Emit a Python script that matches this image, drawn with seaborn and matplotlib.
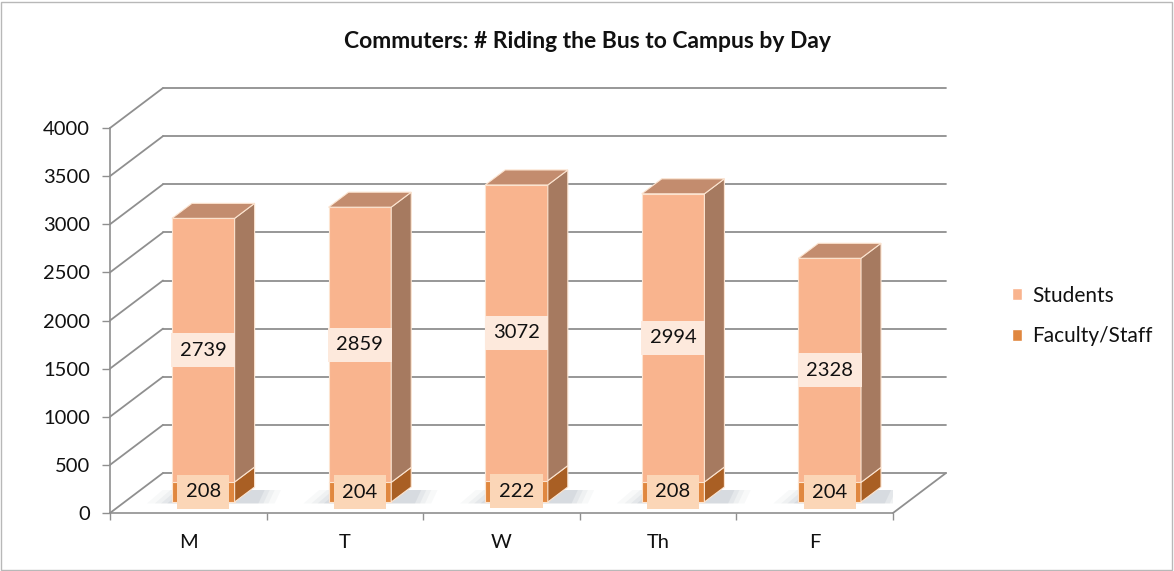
import matplotlib
matplotlib.use("Agg")
import pandas as pd
import seaborn as sns
import matplotlib.pyplot as plt
from matplotlib.patches import Polygon, Rectangle, Patch

days = ["M", "T", "W", "Th", "F"]
students = [2739, 2859, 3072, 2994, 2328]
faculty = [208, 204, 222, 208, 204]
y_ticks = [0, 500, 1000, 1500, 2000, 2500, 3000, 3500, 4000]
title = "Commuters: # Riding the Bus to Campus by Day"

STUDENT_FRONT = "#F9B48E"
STUDENT_SIDE = "#A67A60"
STUDENT_TOP = "#C38C6E"
FACULTY_FRONT = "#E0873F"
FACULTY_SIDE = "#A95F24"
EDGE = "#FCE4D0"
GRID = "#8F8F8F"

W, H = 1174, 571
ax_box = (110, 58, 783, 385)  # left, bottom, width, height (px)

sns.set_style("white")
plt.rcParams["font.family"] = ["Lato", "DejaVu Sans"]

fig = plt.figure(figsize=(W / 100, H / 100), dpi=100)
ax = fig.add_axes([ax_box[0] / W, ax_box[1] / H, ax_box[2] / W, ax_box[3] / H])

df = pd.DataFrame({"day": days, "Students": students, "Faculty/Staff": faculty})
df["total"] = df["Students"] + df["Faculty/Staff"]

# pixel -> data unit conversion for the fake 3d (oblique) depth
ux = ax_box[2] / len(days)
uy = ax_box[3] / y_ticks[-1]


def off(px, py):
    return px / ux, py / uy


back = off(53, 40)   # back wall offset
front = off(15, 11)  # front plane of the bars
deep = off(20, 15)   # bar depth
xl, xr = -0.5, len(days) - 0.5

# back wall, left wall and floor
for y in y_ticks:
    ax.plot([xl + back[0], xr + back[0]], [y + back[1]] * 2, color=GRID, lw=1.3,
            clip_on=False, zorder=0)
    ax.plot([xl, xl + back[0]], [y, y + back[1]], color=GRID, lw=1.3,
            clip_on=False, zorder=0)
ax.plot([xr, xr + back[0]], [0, back[1]], color=GRID, lw=1.3, clip_on=False, zorder=0)

# front faces via seaborn (totals, then faculty drawn over the bottom part)
sns.barplot(data=df, x="day", y="total", order=days, color=STUDENT_FRONT,
            saturation=1, width=0.4, edgecolor=EDGE, linewidth=0.8, zorder=3, ax=ax)
sns.barplot(data=df, x="day", y="Faculty/Staff", order=days, color=FACULTY_FRONT,
            saturation=1, width=0.4, edgecolor=EDGE, linewidth=0.8, zorder=3, ax=ax)
for p in ax.patches:
    p.set_x(p.get_x() + front[0])
    p.set_y(p.get_y() + front[1])

# sides, tops, shadows and labels
for i in range(len(days)):
    x0 = i - 0.2 + front[0]
    x1 = x0 + 0.4
    y0 = front[1]
    yf = y0 + faculty[i]
    yt = yf + students[i]
    dx, dy = deep

    # soft floor shadow, mostly to the left of the bar and behind its side
    for g, a in [(0.16, 0.05), (0.11, 0.07), (0.07, 0.09), (0.03, 0.12)]:
        shadow = [(x0 - g, y0 - 15), (x1 + dx + g * 0.8, y0 - 15),
                  (x1 + dx + g * 0.8 + 0.04, y0 + dy * 0.8), (x0 - g + 0.1, y0 + dy * 0.8)]
        ax.add_patch(Polygon(shadow, closed=True, fc="#7d8a9c", ec="none",
                             alpha=a, zorder=1))

    ax.add_patch(Polygon([(x1, y0), (x1 + dx, y0 + dy), (x1 + dx, yf + dy), (x1, yf)],
                         closed=True, fc=FACULTY_SIDE, ec=EDGE, lw=0.8, zorder=3))
    ax.add_patch(Polygon([(x1, yf), (x1 + dx, yf + dy), (x1 + dx, yt + dy), (x1, yt)],
                         closed=True, fc=STUDENT_SIDE, ec=EDGE, lw=0.8, zorder=3))
    ax.add_patch(Polygon([(x0, yt), (x1, yt), (x1 + dx, yt + dy), (x0 + dx, yt + dy)],
                         closed=True, fc=STUDENT_TOP, ec=EDGE, lw=0.8, zorder=3))

    ax.text(i + front[0], yf + students[i] / 2, str(students[i]), ha="center",
            va="center", fontsize=14.5, zorder=5, clip_on=False, color="#111111",
            bbox=dict(boxstyle="square,pad=0.42", fc="#FDE9DC", ec="none"))
    ax.text(i + front[0], y0 + faculty[i] / 2, str(faculty[i]), ha="center",
            va="center", fontsize=14.5, zorder=5, clip_on=False, color="#111111",
            bbox=dict(boxstyle="square,pad=0.42", fc="#FBD6B7", ec="none"))

# axes
ax.set_xlim(xl, xr)
ax.set_ylim(0, y_ticks[-1])
ax.set_yticks(y_ticks)
ax.set_xticks(range(len(days)))
ax.set_xticklabels(days)
ax.set_xticks([xl + k for k in range(len(days) + 1)], minor=True)
ax.set_xlabel("")
ax.set_ylabel("")
ax.tick_params(axis="y", left=True, length=5.5, width=1, color=GRID, pad=9,
               labelsize=14.5, labelcolor="#111111")
ax.tick_params(axis="x", which="major", bottom=False, length=0, pad=15,
               labelsize=14.5, labelcolor="#111111")
ax.tick_params(axis="x", which="minor", bottom=True, length=5, width=1, color=GRID,
               direction="out")
sns.despine(ax=ax)
for s in ["left", "bottom"]:
    ax.spines[s].set_color(GRID)
    ax.spines[s].set_linewidth(1.2)
ax.patch.set_alpha(0)

fig.text(0.5, 1 - 42 / H, title, ha="center", va="center", fontsize=16.5,
         fontweight="bold", color="#111111")

handles = [Patch(fc=STUDENT_FRONT), Patch(fc=FACULTY_FRONT)]
ax.legend(handles, ["Students", "Faculty/Staff"], loc="center left",
          bbox_to_anchor=(993 / W, 1 - 316 / H), bbox_transform=fig.transFigure,
          frameon=False, handlelength=0.5, handleheight=0.5, handletextpad=0.5,
          labelspacing=1.0, fontsize=15, labelcolor="#111111")

fig.add_artist(Rectangle((1 / W, 1 / H), 1 - 3 / W, 1 - 3 / H,
                         transform=fig.transFigure, fill=False, ec="#B8B8B8", lw=1))

fig.savefig("out.png", dpi=100)
